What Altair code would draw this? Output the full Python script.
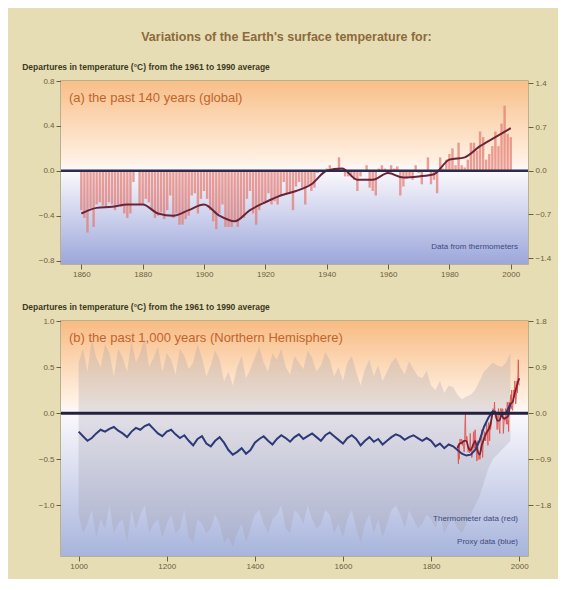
import altair as alt
import pandas as pd

# ---------------- data ----------------
# (a) annual global anomalies (deg C), 1860-2000
years_a = list(range(1860, 2001))
temp_a = [
    -0.35, -0.42, -0.55, -0.33, -0.50, -0.30, -0.28, -0.31, -0.33, -0.28,
    -0.30, -0.35, -0.30, -0.32, -0.38, -0.42, -0.38, -0.10, 0.00, -0.30,
    -0.30, -0.25, -0.28, -0.35, -0.42, -0.40, -0.37, -0.43, -0.35, -0.22,
    -0.42, -0.38, -0.48, -0.48, -0.43, -0.40, -0.22, -0.20, -0.38, -0.25,
    -0.18, -0.25, -0.35, -0.45, -0.52, -0.38, -0.30, -0.50, -0.50, -0.50,
    -0.45, -0.50, -0.43, -0.42, -0.25, -0.18, -0.38, -0.48, -0.35, -0.28,
    -0.27, -0.20, -0.30, -0.27, -0.30, -0.22, -0.10, -0.20, -0.20, -0.35,
    -0.14, -0.10, -0.15, -0.30, -0.13, -0.18, -0.15, -0.02, 0.00, -0.02,
    0.02, 0.05, 0.02, 0.02, 0.12, 0.00, -0.05, -0.05, -0.05, -0.08,
    -0.18, -0.05, 0.00, 0.05, -0.15, -0.18, -0.22, 0.02, 0.05, 0.02,
    -0.02, 0.05, 0.02, 0.04, -0.22, -0.14, -0.07, -0.05, -0.08, 0.05,
    -0.02, -0.12, 0.00, 0.12, -0.12, -0.08, -0.20, 0.12, 0.02, 0.10,
    0.15, 0.20, 0.05, 0.25, 0.05, 0.03, 0.10, 0.25, 0.25, 0.18,
    0.35, 0.30, 0.10, 0.15, 0.22, 0.35, 0.22, 0.42, 0.58, 0.33,
    0.30,
]
# (a) smoothed curve, every 5 years
smooth_years_a = list(range(1860, 2001, 5))
smooth_a = [
    -0.38, -0.33, -0.32, -0.30, -0.30, -0.38, -0.40, -0.35, -0.30, -0.40,
    -0.45, -0.35, -0.28, -0.22, -0.18, -0.12, 0.00, 0.02, -0.08, -0.08,
    -0.02, -0.06, -0.05, -0.03, 0.10, 0.12, 0.22, 0.30, 0.38,
]

# (b) proxy reconstruction, decadal, 1000-1980
years_b = list(range(1000, 1981, 10))
proxy_b = [
    -0.20, -0.25, -0.30, -0.27, -0.22, -0.18, -0.20, -0.17, -0.15, -0.19,
    -0.22, -0.26, -0.20, -0.16, -0.18, -0.14, -0.12, -0.17, -0.22, -0.25,
    -0.20, -0.18, -0.23, -0.27, -0.24, -0.30, -0.35, -0.28, -0.25, -0.33,
    -0.36, -0.30, -0.26, -0.32, -0.40, -0.45, -0.42, -0.38, -0.44, -0.40,
    -0.32, -0.28, -0.25, -0.30, -0.34, -0.28, -0.24, -0.27, -0.31, -0.26,
    -0.23, -0.28, -0.25, -0.22, -0.26, -0.30, -0.24, -0.21, -0.25, -0.29,
    -0.33, -0.27, -0.24, -0.28, -0.35, -0.30, -0.26, -0.31, -0.28, -0.34,
    -0.30, -0.26, -0.23, -0.25, -0.29, -0.26, -0.24, -0.27, -0.30, -0.27,
    -0.30, -0.36, -0.33, -0.38, -0.34, -0.36, -0.40, -0.44, -0.46, -0.45,
    -0.40, -0.30, -0.15, -0.05, 0.02, 0.00, -0.02, 0.00, 0.10,
]
upper_b = [
    0.55, 0.70, 0.45, 0.80, 0.60, 0.50, 0.75, 0.65, 0.40, 0.70,
    0.60, 0.45, 0.78, 0.55, 0.65, 0.82, 0.50, 0.60, 0.72, 0.45,
    0.65, 0.58, 0.42, 0.70, 0.62, 0.48, 0.55, 0.75, 0.60, 0.40,
    0.52, 0.68, 0.58, 0.35, 0.45, 0.30, 0.50, 0.62, 0.38, 0.48,
    0.60, 0.72, 0.55, 0.45, 0.65, 0.58, 0.70, 0.50, 0.42, 0.62,
    0.55, 0.48, 0.68, 0.60, 0.45, 0.52, 0.66, 0.58, 0.40, 0.50,
    0.35, 0.55, 0.62, 0.45, 0.30, 0.48, 0.58, 0.40, 0.52, 0.35,
    0.45, 0.55, 0.60, 0.50, 0.42, 0.56, 0.48, 0.40, 0.38, 0.46,
    0.30, 0.25, 0.35, 0.22, 0.30, 0.28, 0.20, 0.15, 0.18, 0.20,
    0.25, 0.35, 0.45, 0.50, 0.55, 0.52, 0.50, 0.55, 0.65,
]
lower_b = [
    -1.10, -1.30, -1.20, -1.05, -1.35, -1.15, -1.25, -1.00, -1.30, -1.20,
    -1.15, -1.40, -1.05, -1.25, -1.10, -1.00, -1.30, -1.20, -1.15, -1.35,
    -1.20, -1.10, -1.30, -1.25, -1.05, -1.35, -1.40, -1.15, -1.20, -1.30,
    -1.25, -1.10, -1.20, -1.40, -1.35, -1.45, -1.30, -1.20, -1.40, -1.25,
    -1.10, -1.05, -1.20, -1.30, -1.15, -1.10, -1.00, -1.25, -1.30, -1.05,
    -1.10, -1.20, -1.00, -1.15, -1.25, -1.20, -1.05, -1.10, -1.30, -1.20,
    -1.35, -1.15, -1.05, -1.25, -1.40, -1.20, -1.10, -1.30, -1.15, -1.35,
    -1.20, -1.05, -1.00, -1.10, -1.25, -1.05, -1.15, -1.25, -1.20, -1.10,
    -1.15, -1.25, -1.10, -1.30, -1.20, -1.15, -1.25, -1.30, -1.20, -1.10,
    -1.00, -0.90, -0.75, -0.60, -0.50, -0.45, -0.40, -0.35, -0.30,
]

xticks_a = [1860, 1880, 1900, 1920, 1940, 1960, 1980, 2000]
xticks_b = [1000, 1200, 1400, 1600, 1800, 2000]
yticks_a = [-0.8, -0.4, 0.0, 0.4, 0.8]
yticks_a_f = [-1.4, -0.7, 0.0, 0.7, 1.4]
yticks_b = [-1.0, -0.5, 0.0, 0.5, 1.0]
yticks_b_f = [-1.8, -0.9, 0.0, 0.9, 1.8]

main_title = "Variations of the Earth's surface temperature for:"
subtitle = "Departures in temperature (\u00b0C) from the 1961 to 1990 average"
label_a = "(a) the past 140 years (global)"
label_b = "(b) the past 1,000 years (Northern Hemisphere)"

# ---------------- styling ----------------
FONT = "Liberation Sans"
BG = "#e7ddb4"
AXC = "#6b6040"
W = 467
HA = 183
HB = 235

df_a = pd.DataFrame({"year": years_a, "temp": temp_a})
df_sa = pd.DataFrame({"year": smooth_years_a, "temp": smooth_a})
df_b = pd.DataFrame({"year": years_b, "proxy": proxy_b, "up": upper_b, "lo": lower_b})
one = pd.DataFrame({"k": [0]})


def grad(zero, top, bottom):
    return alt.Gradient(
        gradient="linear",
        stops=[
            alt.GradientStop(offset=0, color=top),
            alt.GradientStop(offset=zero - 0.06, color="#fff0e2"),
            alt.GradientStop(offset=zero, color="#fbf9fd"),
            alt.GradientStop(offset=1, color=bottom),
        ],
        x1=0, x2=0, y1=0, y2=1,
    )


def xaxis(vals):
    return alt.Axis(values=vals, format="d", title=None, grid=False, domain=False,
                    labelColor=AXC, tickColor=AXC, labelFontSize=8, labelPadding=1)


def yaxis(vals, orient):
    return alt.Axis(values=vals, format=".1f", title=None, grid=False, domain=False,
                    orient=orient, labelColor=AXC, tickColor=AXC, labelFontSize=8)


# ---------------- panel (a) ----------------
xs_a = alt.Scale(domain=[1855, 2004], nice=False, zero=False)
ys_a = alt.Scale(domain=[-0.83, 0.8], nice=False)

bg_a = alt.Chart(one).mark_rect(fill=grad(0.49, "#f8bf88", "#9ca7db")).encode(
    x=alt.value(0), x2=alt.value(W), y=alt.value(0), y2=alt.value(HA))
bars_a = alt.Chart(df_a).mark_bar(width=2.4, color="#e2786e", opacity=0.7).encode(
    x=alt.X("year:Q", scale=xs_a, axis=xaxis(xticks_a)),
    y=alt.Y("temp:Q", scale=ys_a, axis=yaxis(yticks_a, "left")),
    y2=alt.datum(0))
line_a = alt.Chart(df_sa).mark_line(color="#6a2436", strokeWidth=2, interpolate="monotone").encode(
    x=alt.X("year:Q", scale=xs_a), y=alt.Y("temp:Q", scale=ys_a))
zero_a = alt.Chart(one).mark_rule(color="#2b2b4d", strokeWidth=2.5).encode(y=alt.datum(0))
txt_a = alt.Chart(one).mark_text(text=label_a, align="left", baseline="middle", fontSize=13,
                                 color="#c0652c", font=FONT).encode(
    x=alt.value(8), y=alt.value(17))
leg_a = alt.Chart(one).mark_text(text="Data from thermometers", align="right", baseline="middle",
                                 fontSize=8, color="#3d4a7c", font=FONT).encode(
    x=alt.value(W - 10), y=alt.value(HA - 17))
right_a = alt.Chart(one).mark_point(opacity=0).encode(
    y=alt.Y("k:Q", scale=alt.Scale(domain=[-1.494, 1.44], nice=False),
            axis=yaxis(yticks_a_f, "right")))

panel_a = alt.layer(
    alt.layer(bg_a, bars_a, line_a, zero_a, txt_a, leg_a),
    right_a,
).resolve_scale(y="independent").properties(
    width=W, height=HA,
    title=alt.TitleParams(subtitle, anchor="start", fontSize=8.5, fontWeight="bold",
                          color="#3c3a22", font=FONT, dx=-16, offset=6),
)

# ---------------- panel (b) ----------------
xs_b = alt.Scale(domain=[960, 2020], nice=False, zero=False)
ys_b = alt.Scale(domain=[-1.55, 1.0], nice=False)

bg_b = alt.Chart(one).mark_rect(fill=grad(0.392, "#f8bb82", "#a8b4dc")).encode(
    x=alt.value(0), x2=alt.value(W), y=alt.value(0), y2=alt.value(HB))
band_b = alt.Chart(df_b).mark_area(color="#a09eaa", opacity=0.28).encode(
    x=alt.X("year:Q", scale=xs_b, axis=xaxis(xticks_b)),
    y=alt.Y("up:Q", scale=ys_b, axis=yaxis(yticks_b, "left")),
    y2="lo:Q")
therm_b = alt.Chart(df_a).mark_line(color="#e0504a", strokeWidth=1, opacity=0.85).encode(
    x=alt.X("year:Q", scale=xs_b), y=alt.Y("temp:Q", scale=ys_b))
proxy_line = alt.Chart(df_b).mark_line(color="#2e3a78", strokeWidth=2).encode(
    x=alt.X("year:Q", scale=xs_b), y=alt.Y("proxy:Q", scale=ys_b))
smooth_b = alt.Chart(df_sa).mark_line(color="#7a2030", strokeWidth=1.8, interpolate="monotone").encode(
    x=alt.X("year:Q", scale=xs_b), y=alt.Y("temp:Q", scale=ys_b))
zero_b = alt.Chart(one).mark_rule(color="#22223f", strokeWidth=3).encode(y=alt.datum(0))
txt_b = alt.Chart(one).mark_text(text=label_b, align="left", baseline="middle", fontSize=13,
                                 color="#c0652c", font=FONT).encode(
    x=alt.value(8), y=alt.value(17))
leg_b1 = alt.Chart(one).mark_text(text="Thermometer data (red)", align="right", baseline="middle",
                                  fontSize=8, color="#3d4a7c", font=FONT).encode(
    x=alt.value(W - 10), y=alt.value(HB - 37))
leg_b2 = alt.Chart(one).mark_text(text="Proxy data (blue)", align="right", baseline="middle",
                                  fontSize=8, color="#3d4a7c", font=FONT).encode(
    x=alt.value(W - 10), y=alt.value(HB - 14))
right_b = alt.Chart(one).mark_point(opacity=0).encode(
    y=alt.Y("k:Q", scale=alt.Scale(domain=[-2.79, 1.8], nice=False),
            axis=yaxis(yticks_b_f, "right")))

panel_b = alt.layer(
    alt.layer(bg_b, band_b, therm_b, smooth_b, proxy_line, zero_b, txt_b, leg_b1, leg_b2),
    right_b,
).resolve_scale(y="independent").properties(
    width=W, height=HB,
    title=alt.TitleParams(subtitle, anchor="start", fontSize=8.5, fontWeight="bold",
                          color="#3c3a22", font=FONT, dx=-16, offset=6),
)

chart = alt.vconcat(
    panel_a, panel_b, spacing=22,
    title=alt.TitleParams(main_title, anchor="middle", fontSize=12.5, color="#8c6a3c",
                          font=FONT, offset=18),
).properties(
    padding={"left": 13, "right": 6, "top": 23, "bottom": 8},
).configure(background=BG, font=FONT).configure_view(stroke="#a9a184", strokeWidth=1.5)

chart.save("out.html", embed_options={"renderer": "svg", "actions": False})
